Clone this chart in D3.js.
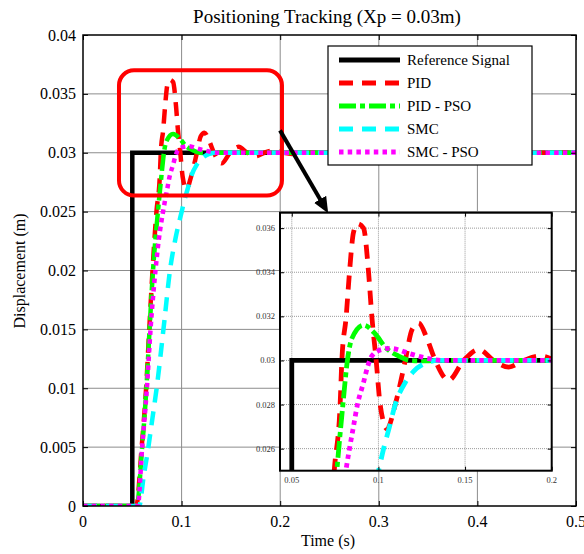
<!DOCTYPE html>
<html>
<head>
<meta charset="utf-8">
<script src="https://cdn.jsdelivr.net/npm/d3@7"></script>
<style>
  body { margin: 0; background: #fff; }
  text { font-family: "Liberation Serif", "Times New Roman", serif; }
</style>
</head>
<body>
<svg id="chart" width="584" height="554"></svg>
<script>
// series as [time (s), displacement (m)]
const reference = [[0, 0], [0.05, 0], [0.05, 0.03], [0.5, 0.03]];
const pid = [[0, 0], [0.054, 0], [0.0595, 0.005], [0.064, 0.01], [0.0672, 0.015], [0.0705, 0.02],
  [0.0745, 0.025], [0.0779, 0.028], [0.0789, 0.03], [0.0814, 0.032], [0.0833, 0.034], [0.0856, 0.0358],
  [0.0879, 0.0362], [0.0914, 0.036], [0.0943, 0.034], [0.0962, 0.032], [0.0987, 0.03], [0.101, 0.028],
  [0.105, 0.0269], [0.1097, 0.028], [0.1155, 0.03], [0.1194, 0.0314], [0.1232, 0.0317], [0.128, 0.031],
  [0.1328, 0.03], [0.1405, 0.0291], [0.1492, 0.03], [0.1579, 0.0305], [0.1665, 0.03], [0.1752, 0.0297],
  [0.1839, 0.03], [0.1935, 0.0302], [0.203, 0.03], [0.212, 0.0299], [0.22, 0.03], [0.5, 0.03]];
const pidPso = [[0, 0], [0.0545, 0], [0.06, 0.005], [0.0643, 0.01], [0.0675, 0.015], [0.071, 0.02],
  [0.076, 0.025], [0.0795, 0.028], [0.0821, 0.03], [0.0847, 0.031], [0.0914, 0.0316], [0.0982, 0.0312],
  [0.104, 0.0306], [0.1116, 0.0302], [0.1184, 0.03], [0.126, 0.02998], [0.14, 0.03], [0.5, 0.03]];
const smc = [[0, 0], [0.057, 0], [0.0615, 0.0025], [0.0663, 0.005], [0.0705, 0.0075], [0.0747, 0.01],
  [0.0825, 0.0157], [0.0882, 0.02], [0.094, 0.0228], [0.1001, 0.025], [0.103, 0.026], [0.1064, 0.027],
  [0.1097, 0.028], [0.1155, 0.029], [0.1203, 0.0295], [0.128, 0.0299], [0.134, 0.03], [0.5, 0.03]];
const smcPso = [[0, 0], [0.0555, 0], [0.06, 0.005], [0.0648, 0.01], [0.0685, 0.015], [0.0735, 0.02],
  [0.0767, 0.0225], [0.0812, 0.025], [0.0833, 0.026], [0.0856, 0.027], [0.0879, 0.028], [0.0914, 0.029],
  [0.0937, 0.0297], [0.0962, 0.0302], [0.102, 0.0305], [0.1068, 0.03055], [0.1184, 0.0303], [0.128, 0.0301],
  [0.1375, 0.03], [0.5, 0.03]];

const seriesNames = ["Reference Signal", "PID", "PID - PSO", "SMC", "SMC - PSO"];
const seriesColors = ["#000000", "#ff0000", "#00ff00", "#00ffff", "#ff00ff"];

const xTicks = [0, 0.1, 0.2, 0.3, 0.4, 0.5];
const xTickLabels = ["0", "0.1", "0.2", "0.3", "0.4", "0.5"];
const yTicks = [0, 0.005, 0.01, 0.015, 0.02, 0.025, 0.03, 0.035, 0.04];
const yTickLabels = ["0", "0.005", "0.01", "0.015", "0.02", "0.025", "0.03", "0.035", "0.04"];
const insetXTicks = [0.05, 0.1, 0.15, 0.2];
const insetXTickLabels = ["0.05", "0.1", "0.15", "0.2"];
const insetYTicks = [0.026, 0.028, 0.03, 0.032, 0.034, 0.036];
const insetYTickLabels = ["0.026", "0.028", "0.03", "0.032", "0.034", "0.036"];

const series = [reference, pid, pidPso, smc, smcPso];
const dashes = [null, "14,9", "17,4,5,4", "14,9", "4.5,4.2"];

const svg = d3.select("#chart");

// main axes area
const mLeft = 83, mRight = 576, mTop = 35, mBottom = 506;
const x = d3.scaleLinear().domain([0, 0.5]).range([mLeft, mRight]);
const y = d3.scaleLinear().domain([0, 0.04]).range([mBottom, mTop]);

// inset area
const iLeft = 280, iRight = 551.7, iTop = 212.7, iBottom = 470.7;
const ix = d3.scaleLinear().domain([0.0432, 0.2]).range([iLeft, iRight]);
const iy = d3.scaleLinear().domain([0.025, 0.0367]).range([iBottom, iTop]);

const defs = svg.append("defs");
defs.append("clipPath").attr("id", "clipMain").append("rect")
  .attr("x", mLeft).attr("y", mTop).attr("width", mRight - mLeft).attr("height", mBottom - mTop);
defs.append("clipPath").attr("id", "clipInset").append("rect")
  .attr("x", iLeft).attr("y", iTop).attr("width", iRight - iLeft).attr("height", iBottom - iTop);
defs.append("marker").attr("id", "arrowHead")
  .attr("markerUnits", "userSpaceOnUse")
  .attr("markerWidth", 16).attr("markerHeight", 14)
  .attr("refX", 2).attr("refY", 7).attr("orient", "auto")
  .append("path").attr("d", "M0,0 L16,7 L0,14 Z").attr("fill", "#000");

// grid
const grid = svg.append("g").attr("stroke", "#8c8c8c").attr("stroke-width", 1);
grid.selectAll(".gx").data(xTicks.slice(1, -1)).join("line")
  .attr("x1", d => x(d)).attr("x2", d => x(d)).attr("y1", mTop).attr("y2", mBottom);
grid.selectAll(".gy").data(yTicks.slice(1, -1)).join("line")
  .attr("x1", mLeft).attr("x2", mRight).attr("y1", d => y(d)).attr("y2", d => y(d));

function lineFor(xs, ys, data) {
  const gen = d3.line().x(d => xs(d[0])).y(d => ys(d[1]));
  gen.curve(data === reference ? d3.curveLinear : d3.curveMonotoneX);
  return gen(data);
}

// main curves
const curves = svg.append("g").attr("clip-path", "url(#clipMain)");
series.forEach((s, i) => {
  curves.append("path")
    .attr("d", lineFor(x, y, s))
    .attr("fill", "none")
    .attr("stroke", seriesColors[i])
    .attr("stroke-width", 4.5)
    .attr("stroke-dasharray", dashes[i]);
});

// main frame + ticks (inward on all sides)
svg.append("rect").attr("x", mLeft).attr("y", mTop).attr("width", mRight - mLeft).attr("height", mBottom - mTop)
  .attr("fill", "none").attr("stroke", "#000").attr("stroke-width", 1.5);
svg.append("g").attr("transform", `translate(0,${mBottom})`)
  .call(d3.axisTop(x).tickValues(xTicks).tickSize(5).tickFormat(""))
  .call(g => g.select(".domain").remove());
svg.append("g").attr("transform", `translate(0,${mTop})`)
  .call(d3.axisBottom(x).tickValues(xTicks).tickSize(5).tickFormat(""))
  .call(g => g.select(".domain").remove());
svg.append("g").attr("transform", `translate(${mLeft},0)`)
  .call(d3.axisRight(y).tickValues(yTicks).tickSize(5).tickFormat(""))
  .call(g => g.select(".domain").remove());
svg.append("g").attr("transform", `translate(${mRight},0)`)
  .call(d3.axisLeft(y).tickValues(yTicks).tickSize(5).tickFormat(""))
  .call(g => g.select(".domain").remove());

svg.append("g").selectAll("text").data(xTicks).join("text")
  .attr("x", d => x(d)).attr("y", 526.5)
  .attr("text-anchor", "middle").attr("font-size", 16)
  .text((d, i) => xTickLabels[i]);
svg.append("g").selectAll("text").data(yTicks).join("text")
  .attr("x", 76).attr("y", d => y(d)).attr("dy", "0.35em")
  .attr("text-anchor", "end").attr("font-size", 16)
  .text((d, i) => yTickLabels[i]);

// title and axis labels
svg.append("text").attr("x", 327).attr("y", 23).attr("text-anchor", "middle")
  .attr("font-size", 19).text("Positioning Tracking (Xp = 0.03m)");
svg.append("text").attr("x", 328).attr("y", 546).attr("text-anchor", "middle")
  .attr("font-size", 16).text("Time (s)");
svg.append("text").attr("transform", "translate(25,271) rotate(-90)").attr("text-anchor", "middle")
  .attr("font-size", 16).text("Displacement (m)");

// zoom highlight box and arrow
svg.append("rect")
  .attr("x", x(0.0365)).attr("y", y(0.037))
  .attr("width", x(0.2018) - x(0.0365)).attr("height", y(0.02637) - y(0.037))
  .attr("rx", 15).attr("ry", 15)
  .attr("fill", "none").attr("stroke", "#ff0000").attr("stroke-width", 4);
svg.append("line")
  .attr("x1", x(0.1998)).attr("y1", y(0.0319))
  .attr("x2", x(0.2415)).attr("y2", y(0.0259))
  .attr("stroke", "#000").attr("stroke-width", 4)
  .attr("marker-end", "url(#arrowHead)");

// legend
const legend = svg.append("g");
legend.append("rect").attr("x", 328).attr("y", 46).attr("width", 204).attr("height", 119)
  .attr("fill", "#fff").attr("stroke", "#000").attr("stroke-width", 1.2);
seriesNames.forEach((name, i) => {
  const ly = 60 + i * 23;
  legend.append("line").attr("x1", 339).attr("x2", 400).attr("y1", ly).attr("y2", ly)
    .attr("stroke", seriesColors[i]).attr("stroke-width", 5)
    .attr("stroke-dasharray", dashes[i]);
  legend.append("text").attr("x", 407).attr("y", ly).attr("dy", "0.35em")
    .attr("font-size", 15).text(name);
});

// inset
const inset = svg.append("g");
inset.append("rect").attr("x", iLeft).attr("y", iTop).attr("width", iRight - iLeft).attr("height", iBottom - iTop)
  .attr("fill", "#fff");
const igrid = inset.append("g").attr("stroke", "#999").attr("stroke-width", 1).attr("stroke-dasharray", "1,1");
igrid.selectAll(".gx").data(insetXTicks).join("line")
  .attr("x1", d => ix(d)).attr("x2", d => ix(d)).attr("y1", iTop).attr("y2", iBottom);
igrid.selectAll(".gy").data(insetYTicks).join("line")
  .attr("x1", iLeft).attr("x2", iRight).attr("y1", d => iy(d)).attr("y2", d => iy(d));

const icurves = inset.append("g").attr("clip-path", "url(#clipInset)");
series.forEach((s, i) => {
  icurves.append("path")
    .attr("d", lineFor(ix, iy, s))
    .attr("fill", "none")
    .attr("stroke", seriesColors[i])
    .attr("stroke-width", 4.8)
    .attr("stroke-dasharray", dashes[i]);
});

inset.append("rect").attr("x", iLeft).attr("y", iTop).attr("width", iRight - iLeft).attr("height", iBottom - iTop)
  .attr("fill", "none").attr("stroke", "#000").attr("stroke-width", 2);
inset.append("g").attr("transform", `translate(0,${iBottom})`)
  .call(d3.axisTop(ix).tickValues(insetXTicks).tickSize(4).tickFormat(""))
  .call(g => g.select(".domain").remove());
inset.append("g").attr("transform", `translate(0,${iTop})`)
  .call(d3.axisBottom(ix).tickValues(insetXTicks).tickSize(4).tickFormat(""))
  .call(g => g.select(".domain").remove());
inset.append("g").attr("transform", `translate(${iLeft},0)`)
  .call(d3.axisRight(iy).tickValues(insetYTicks).tickSize(4).tickFormat(""))
  .call(g => g.select(".domain").remove());
inset.append("g").attr("transform", `translate(${iRight},0)`)
  .call(d3.axisLeft(iy).tickValues(insetYTicks).tickSize(4).tickFormat(""))
  .call(g => g.select(".domain").remove());

inset.append("g").selectAll("text").data(insetXTicks).join("text")
  .attr("x", d => ix(d)).attr("y", 483)
  .attr("text-anchor", "middle").attr("font-size", 8.5).attr("fill", "#333")
  .text((d, i) => insetXTickLabels[i]);
inset.append("g").selectAll("text").data(insetYTicks).join("text")
  .attr("x", 275).attr("y", d => iy(d)).attr("dy", "0.35em")
  .attr("text-anchor", "end").attr("font-size", 8.5).attr("fill", "#333")
  .text((d, i) => insetYTickLabels[i]);
</script>
</body>
</html>
